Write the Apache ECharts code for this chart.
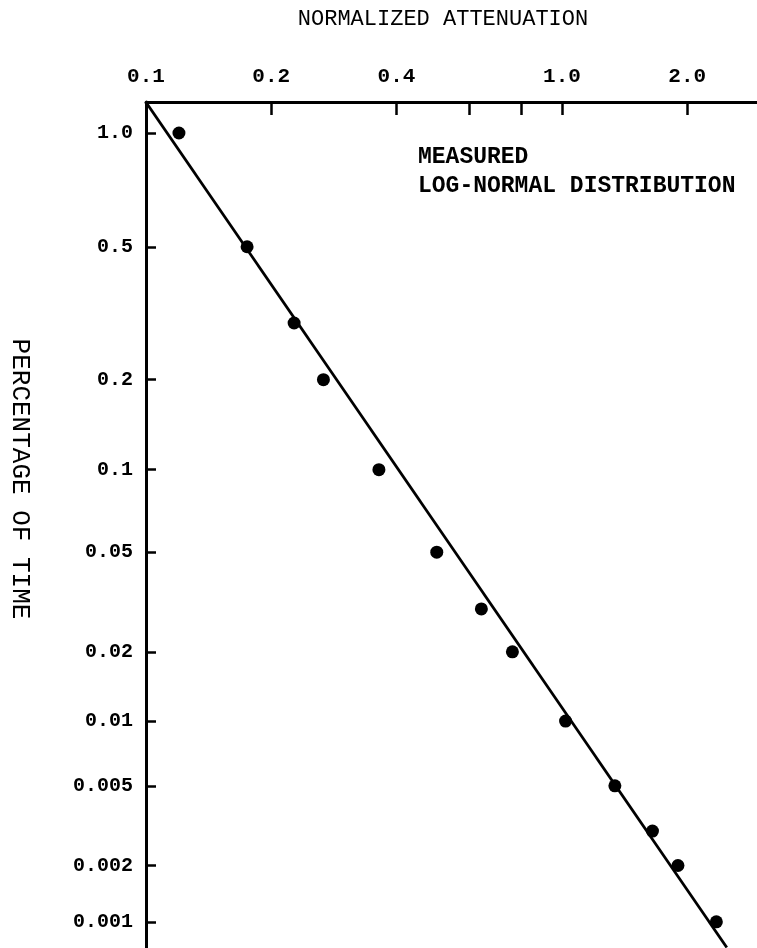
<!DOCTYPE html>
<html>
<head>
<meta charset="utf-8">
<script src="https://cdn.jsdelivr.net/npm/echarts@6/dist/echarts.min.js"></script>
<style>html,body{margin:0;padding:0;background:#fff}#c{width:757px;height:948px}</style>
</head>
<body>
<div id="c"></div>
<script>
// ---- data ----
const X_TICKS = [0.1, 0.2, 0.4, 0.6, 0.8, 1.0, 2.0];
const X_LABEL_VALUES = [0.1, 0.2, 0.4, 1.0, 2.0];
const X_LABELS = ['0.1', '0.2', '0.4', '1.0', '2.0'];
const Y_TICK_VALUES = [1.0, 0.5, 0.2, 0.1, 0.05, 0.02, 0.01, 0.005, 0.002, 0.001];
const Y_LABELS = ['1.0', '0.5', '0.2', '0.1', '0.05', '0.02', '0.01', '0.005', '0.002', '0.001'];
const MEASURED_ATT = [0.12, 0.175, 0.227, 0.267, 0.363, 0.50, 0.64, 0.76, 1.02, 1.34, 1.65, 1.90, 2.35];
const MEASURED_PCT = [1.0, 0.5, 0.3, 0.2, 0.1, 0.05, 0.03, 0.02, 0.01, 0.005, 0.003, 0.002, 0.001];
const LOGNORMAL_ATT = [0.1, 2.49];
const LOGNORMAL_PCT = [1.19, 0.00072];
const X_RANGE = [0.1, 2.943];
const Y_RANGE = [1.192, 0.000715];

// axis scales: log for attenuation, probability-paper style for percentage
const tx = v => Math.log10(v);
const ty = p => Math.log10(2.5 - Math.log10(p));

function nearestLabel(val, vals, labels, f) {
  let best = 0, bd = Infinity;
  vals.forEach((v, i) => { const d = Math.abs(f(v) - val); if (d < bd) { bd = d; best = i; } });
  return labels[best];
}

const FONT = 'Liberation Mono';
const chart = echarts.init(document.getElementById('c'), null, {renderer: 'canvas'});
chart.setOption({
  animation: false,
  backgroundColor: '#fff',
  grid: {left: 146, right: 0, top: 102, bottom: 0, containLabel: false},
  xAxis: {
    type: 'value', position: 'top',
    min: tx(X_RANGE[0]), max: tx(X_RANGE[1]),
    axisLine: {show: true, onZero: false, lineStyle: {color: '#000', width: 3}},
    axisTick: {show: true, inside: true, length: 13, lineStyle: {color: '#000', width: 2.5},
      customValues: X_TICKS.map(tx)},
    axisLabel: {show: true, margin: 15, color: '#000', fontFamily: FONT, fontSize: 21, fontWeight: 'bold',
      showMinLabel: true, showMaxLabel: true,
      customValues: X_LABEL_VALUES.map(tx),
      formatter: v => nearestLabel(v, X_LABEL_VALUES, X_LABELS, tx)},
    splitLine: {show: false}
  },
  yAxis: {
    type: 'value', inverse: true,
    min: ty(Y_RANGE[0]), max: ty(Y_RANGE[1]),
    axisLine: {show: true, onZero: false, lineStyle: {color: '#000', width: 3}},
    axisTick: {show: true, inside: true, length: 10, lineStyle: {color: '#000', width: 2.5},
      customValues: Y_TICK_VALUES.map(ty)},
    axisLabel: {show: true, margin: 13, color: '#000', fontFamily: FONT, fontSize: 20, fontWeight: 'bold',
      showMinLabel: true, showMaxLabel: true,
      customValues: Y_TICK_VALUES.map(ty),
      formatter: v => nearestLabel(v, Y_TICK_VALUES, Y_LABELS, ty)},
    splitLine: {show: false}
  },
  series: [
    {
      type: 'line', name: 'LOG-NORMAL DISTRIBUTION',
      data: LOGNORMAL_ATT.map((a, i) => [tx(a), ty(LOGNORMAL_PCT[i])]),
      symbol: 'none', clip: false,
      lineStyle: {color: '#000', width: 2.8}
    },
    {
      type: 'scatter', name: 'MEASURED',
      data: MEASURED_ATT.map((a, i) => [tx(a), ty(MEASURED_PCT[i])]),
      symbol: 'circle', symbolSize: 13,
      itemStyle: {color: '#000', opacity: 1}
    }
  ],
  graphic: [
    {type: 'text', x: 443, y: 19,
      style: {text: 'NORMALIZED ATTENUATION', align: 'center', verticalAlign: 'middle',
        font: '22px "Liberation Mono"', fill: '#000'}},
    {type: 'text', x: 418, y: 157,
      style: {text: 'MEASURED', verticalAlign: 'middle', font: 'bold 23px "Liberation Mono"', fill: '#000'}},
    {type: 'text', x: 418, y: 186,
      style: {text: 'LOG-NORMAL DISTRIBUTION', verticalAlign: 'middle', font: 'bold 23px "Liberation Mono"', fill: '#000'}},
    {type: 'text', x: 20, y: 479, rotation: -Math.PI / 2,
      style: {text: 'PERCENTAGE OF TIME', align: 'center', verticalAlign: 'middle',
        font: '26px "Liberation Mono"', fill: '#000'}}
  ]
});
</script>
</body>
</html>
